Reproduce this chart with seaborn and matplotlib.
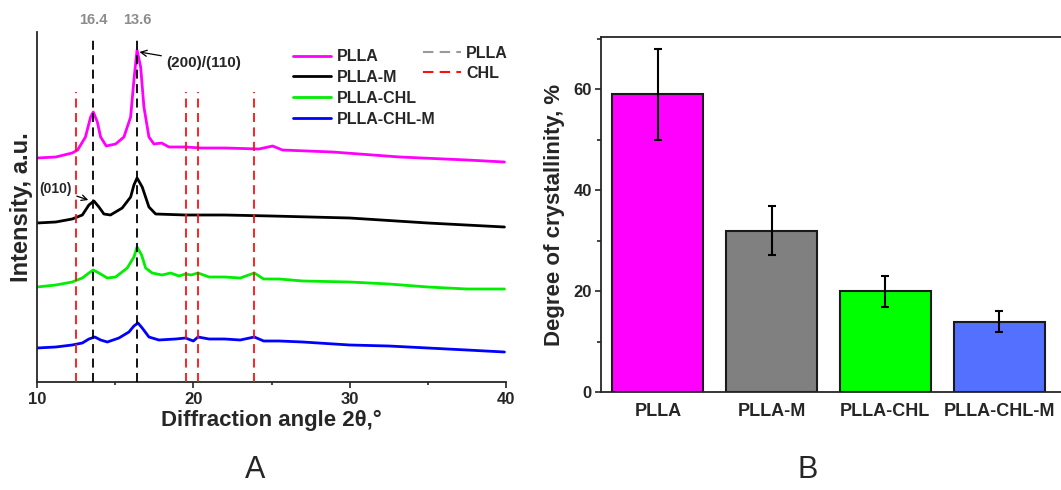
import matplotlib
matplotlib.use("Agg")
import numpy as np
import pandas as pd
import matplotlib.pyplot as plt
import seaborn as sns
from matplotlib.lines import Line2D
from matplotlib.ticker import MultipleLocator

# ---------------- data: panel A (XRD patterns, offset a.u.) ----------------
pll_angle = [10.0, 11.2, 12.25, 12.6, 13.1, 13.43, 13.6, 13.86, 14.07, 14.43, 15.03, 15.56,
             15.99, 16.2, 16.4, 16.63, 16.84, 17.16, 17.48, 17.97, 18.44, 19.5, 20.5, 22.0,
             24.2, 25.07, 25.7, 28.9, 33.2, 37.5, 39.9]
pll_int = [224, 225, 229, 232, 245, 265, 270, 260, 245, 236, 238, 245,
           265, 302, 332, 315, 275, 245, 238, 239, 235, 235, 234, 234,
           233, 236, 232, 230, 225, 222, 220]

pllm_angle = [10.0, 11.2, 12.25, 12.9, 13.32, 13.64, 13.96, 14.28, 14.7, 15.45, 15.99, 16.2,
              16.4, 16.73, 17.16, 17.59, 19.5, 22.0, 25.0, 30.0, 35.0, 39.9]
pllm_int = [159, 160, 163, 167, 177, 181, 175, 168, 167, 174, 185, 197,
            204, 195, 175, 168, 167, 167, 166, 164, 159, 155]

chl_angle = [10.0, 11.2, 12.25, 12.9, 13.32, 13.6, 13.96, 14.5, 15.03, 15.77, 16.2, 16.4,
             16.69, 16.95, 17.37, 18.0, 18.55, 19.08, 19.5, 19.85, 20.3, 21.0, 22.0, 23.0,
             23.9, 24.5, 25.5, 27.0, 30.0, 32.5, 35.0, 37.5, 39.9]
chl_int = [95, 97, 100, 104, 109, 112, 109, 104, 105, 114, 125, 135,
           127, 114, 109, 107, 109, 106, 108, 107, 109, 105, 105, 104,
           109, 103, 103, 101, 100, 98, 95, 93, 93]

chlm_angle = [10.0, 11.2, 12.25, 12.9, 13.32, 13.7, 14.07, 14.5, 15.24, 15.88, 16.2, 16.46,
              16.73, 17.16, 17.8, 18.87, 19.5, 20.0, 20.3, 21.0, 22.0, 23.0, 23.9, 24.5,
              25.5, 27.0, 30.0, 32.5, 35.0, 37.5, 39.9]
chlm_int = [34, 35, 37, 39, 43, 45, 42, 40, 44, 50, 56, 59,
            54, 45, 42, 43, 44, 41, 45, 43, 43, 42, 45, 41,
            41, 40, 37, 36, 34, 32, 30]

samples = ["PLLA", "PLLA-M", "PLLA-CHL", "PLLA-CHL-M"]
line_colors = ["#FF00FF", "#000000", "#00EE00", "#0000FF"]

pll_ref_peaks = [13.6, 16.4]
pll_ref_labels = ["16.4", "13.6"]
chl_ref_peaks = [12.5, 19.5, 20.3, 23.9]

# ---------------- data: panel B (degree of crystallinity) ----------------
bar_samples = ["PLLA", "PLLA-M", "PLLA-CHL", "PLLA-CHL-M"]
crystallinity = [59, 32, 20, 14]
cryst_err = [9, 4.8, 3.1, 2.1]
bar_colors = ["#FF00FF", "#808080", "#00FF00", "#5470FF"]

# ---------------- style ----------------
sns.set_theme(style="ticks")
plt.rcParams["font.family"] = ["Liberation Sans", "DejaVu Sans"]
plt.rcParams["axes.linewidth"] = 1.3

fig = plt.figure(figsize=(10.61, 4.90), dpi=100)
W, H = 1061, 490
axA = fig.add_axes([37 / W, (H - 382) / H, 469 / W, 350 / H])
axB = fig.add_axes([601 / W, (H - 392.3) / H, 460 / W, 355 / H])

# ---------------- panel A ----------------
frames = []
for name, ang, inten in zip(samples, [pll_angle, pllm_angle, chl_angle, chlm_angle],
                            [pll_int, pllm_int, chl_int, chlm_int]):
    frames.append(pd.DataFrame({"angle": ang, "intensity": inten, "sample": name}))
xrd = pd.concat(frames, ignore_index=True)

sns.lineplot(data=xrd, x="angle", y="intensity", hue="sample", hue_order=samples,
             palette=line_colors, estimator=None, linewidth=2.0, legend=False, ax=axA,
             zorder=2, solid_joinstyle="round")

dash = (0, (5, 3))
axA.vlines(pll_ref_peaks, 0, 342, colors="black", linestyles=[dash], linewidth=1.3, zorder=3)
axA.vlines(chl_ref_peaks, 0, 290, colors="#FF1010", linestyles=[dash], linewidth=1.3, zorder=3)
for xp, lab in zip(pll_ref_peaks, pll_ref_labels):
    axA.text(xp, 362, lab, ha="center", va="center", color="#8C8C8C", fontsize=10.5,
             fontweight="bold", clip_on=False)

axA.annotate("(200)/(110)", xy=(16.55, 330), xytext=(18.25, 319), ha="left", va="center",
             fontsize=11, fontweight="bold",
             arrowprops=dict(arrowstyle="->", color="black", lw=0.9, shrinkA=1, shrinkB=0))
axA.annotate("(010)", xy=(13.28, 182), xytext=(12.25, 193), ha="right", va="center",
             fontsize=10, fontweight="bold",
             arrowprops=dict(arrowstyle="->", color="black", lw=0.9, shrinkA=1, shrinkB=0))

axA.set_xlim(10, 40)
axA.set_ylim(0, 350)
axA.set_yticks([])
axA.xaxis.set_major_locator(MultipleLocator(10))
axA.xaxis.set_minor_locator(MultipleLocator(5))
axA.tick_params(axis="x", which="major", direction="out", length=4, width=1.2,
                labelsize=12, pad=3)
axA.tick_params(axis="x", which="minor", direction="out", length=2.5, width=1.2)
for lab in axA.get_xticklabels():
    lab.set_fontweight("bold")
axA.spines["top"].set_visible(False)
axA.spines["right"].set_visible(False)
axA.set_xlabel("Diffraction angle 2θ,°", fontsize=16, fontweight="bold", labelpad=2)
axA.set_ylabel("Intensity, a.u.", fontsize=17, fontweight="bold", labelpad=3)

h1 = [Line2D([], [], color=c, lw=2) for c in line_colors]
leg1 = axA.legend(h1, samples, loc="upper left", bbox_to_anchor=(0.546, 0.951), frameon=False,
                  prop=dict(size=11.5, weight="bold"), handlelength=2.4, handletextpad=0.35,
                  labelspacing=0.37, borderpad=0, borderaxespad=0)
axA.add_artist(leg1)
h2 = [Line2D([], [], color="#9A9A9A", lw=1.5, ls=dash),
      Line2D([], [], color="#FF1010", lw=1.5, ls=dash)]
axA.legend(h2, ["PLLA", "CHL"], loc="upper left", bbox_to_anchor=(0.823, 0.961), frameon=False,
           prop=dict(size=11.5, weight="bold"), handlelength=2.4, handletextpad=0.3,
           labelspacing=0.33, borderpad=0, borderaxespad=0)

# ---------------- panel B ----------------
dfB = pd.DataFrame({"sample": bar_samples, "cryst": crystallinity})
sns.barplot(data=dfB, x="sample", y="cryst", hue="sample", palette=bar_colors, legend=False,
            width=0.8, saturation=1, edgecolor="#1A1A1A", linewidth=1.5, errorbar=None, ax=axB)
axB.errorbar(np.arange(len(bar_samples)), crystallinity, yerr=cryst_err, fmt="none",
             ecolor="black", elinewidth=1.5, capsize=3, capthick=1.5, zorder=5)
axB.set_xlim(-0.5, 3.545)
axB.set_ylim(0, 70.3)
axB.yaxis.set_major_locator(MultipleLocator(20))
axB.yaxis.set_minor_locator(MultipleLocator(10))
axB.tick_params(axis="y", which="major", direction="out", length=4.5, width=1.2,
                labelsize=12, pad=2)
axB.tick_params(axis="y", which="minor", direction="out", length=3, width=1.2)
axB.tick_params(axis="x", length=0, labelsize=13, pad=8)
for lab in axB.get_xticklabels() + axB.get_yticklabels():
    lab.set_fontweight("bold")
axB.spines["right"].set_visible(False)
axB.set_xlabel("")
axB.set_ylabel("Degree of crystallinity, %", fontsize=16, fontweight="bold", labelpad=6)

# panel letters
fig.text(255 / W, 1 - 470 / H, "A", fontsize=22, ha="center", va="center")
fig.text(808 / W, 1 - 470 / H, "B", fontsize=22, ha="center", va="center")

fig.savefig("out.png", dpi=100)
